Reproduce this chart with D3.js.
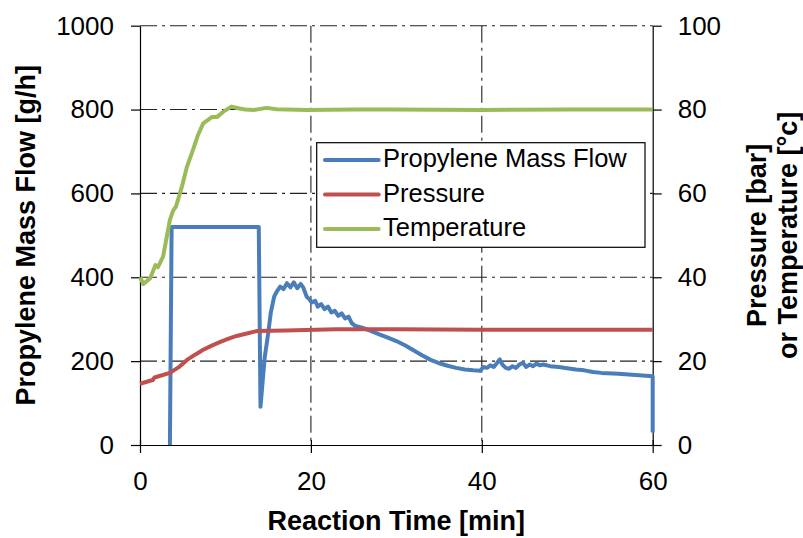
<!DOCTYPE html>
<html>
<head>
<meta charset="utf-8">
<script src="https://cdn.jsdelivr.net/npm/d3@7"></script>
<style>
  body { margin: 0; background: #fff; }
  svg { font-family: "Liberation Sans", Arial, sans-serif; }
  .grid line { stroke: #222; stroke-width: 1.1; stroke-dasharray: 17,5,3,5; }
  .axis path, .axis line { stroke: #000; stroke-width: 1.2; }
  .axis text { font-size: 26px; fill: #000; }
  .series { fill: none; stroke-width: 4; stroke-linejoin: round; }
  .title { font-size: 27px; font-weight: bold; fill: #000; }
</style>
</head>
<body>
<svg width="803" height="538"></svg>
<script>
var margin = { top: 25.7, right: 150.3, bottom: 93, left: 140 }
    , width = 803 - margin.left - margin.right
    , height = 538 - margin.top - margin.bottom;

const colors = {
    flow: "#4a7ebb",
    pressure: "#c0504d",
    temperature: "#9bbb59"
};

// x ticks / y ticks
var timeTicks = [0, 20, 40, 60];
var flowTicks = [0, 200, 400, 600, 800, 1000];
var rightTicks = [0, 20, 40, 60, 80, 100];

// Propylene mass flow [g/h] vs time [min]
var flowTime = [3.5, 3.7, 13.9, 14.1, 14.6, 15.0, 15.3, 15.7, 16.0, 16.4, 16.8, 17.2, 17.6, 18.0, 18.4, 18.8, 19.1, 19.5, 19.8, 20.1, 20.5, 20.8, 21.2, 21.6, 22.0, 22.4, 22.8, 23.2, 23.6, 24.0, 24.4, 24.8, 25.2, 26, 27, 28, 29, 30, 31, 32, 33, 34, 35, 36, 37, 38, 39, 39.8, 40.2, 40.6, 41.0, 41.4, 41.8, 42.1, 42.4, 42.8, 43.2, 43.6, 44.0, 44.4, 44.8, 45.2, 45.6, 46.0, 46.4, 46.8, 47.2, 48, 49, 50, 51, 52, 53, 54, 56, 58, 60, 60];
var flowValue = [0, 520, 520, 91, 210, 266, 315, 354, 366, 378, 372, 386, 376, 388, 374, 384, 376, 354, 348, 340, 344, 330, 336, 324, 330, 316, 320, 308, 314, 302, 306, 290, 284, 280, 272, 264, 256, 248, 238, 226, 214, 203, 195, 189, 184, 180, 178, 177, 186, 184, 190, 186, 196, 204, 192, 184, 182, 188, 184, 192, 196, 186, 192, 188, 194, 190, 192, 188, 186, 183, 180, 178, 174, 172, 170, 167, 164, 30];

// Pressure [bar]
var pressureTime = [0, 1.5, 1.7, 3.5, 4.5, 5.5, 6.5, 7.4, 8.4, 9.4, 10.3, 11.3, 12.5, 13.7, 17, 23, 30, 40, 50, 60];
var pressureValue = [14.6, 15.5, 16.1, 17.2, 18.5, 20.3, 21.6, 22.7, 23.7, 24.6, 25.3, 26.0, 26.6, 27.2, 27.3, 27.6, 27.6, 27.5, 27.5, 27.5];

// Temperature [°c]
var tempTime = [0, 0.4, 1.2, 1.8, 2.1, 2.7, 3.5, 3.9, 4.2, 4.9, 5.5, 6.2, 6.8, 7.4, 8.4, 9.0, 9.75, 10.7, 11.5, 12.3, 13.3, 14.8, 16, 19.5, 25, 30, 40, 50, 60];
var tempValue = [40, 38.4, 39.8, 42.9, 42.4, 44.9, 53.7, 56.0, 56.8, 61.6, 66.4, 70.4, 74, 76.7, 78.2, 78.2, 79.5, 80.7, 80.3, 80.0, 79.9, 80.4, 80.1, 79.9, 80, 80, 79.9, 80, 80];

var legendLabels = ["Propylene Mass Flow", "Pressure", "Temperature"];

function zip(xs, ys) {
    return xs.map(function (d, i) { return { t: d, v: ys[i] }; });
}

var x = d3.scaleLinear().domain([0, 60]).range([0, width]);
var y = d3.scaleLinear().domain([0, 1000]).range([height, 0]);
var y2 = d3.scaleLinear().domain([0, 100]).range([height, 0]);

var svg = d3.select("svg")
    .append("g")
    .attr("transform", "translate(" + margin.left + "," + margin.top + ")");

// gridlines
var grid = svg.append("g").attr("class", "grid");
grid.selectAll(".h")
    .data(flowTicks.slice(1))
    .enter().append("line")
    .attr("x1", 0).attr("x2", width)
    .attr("y1", function (d) { return y(d); })
    .attr("y2", function (d) { return y(d); });
grid.selectAll(".v")
    .data(timeTicks.slice(1, -1))
    .enter().append("line")
    .attr("y1", 0).attr("y2", height)
    .attr("x1", function (d) { return x(d); })
    .attr("x2", function (d) { return x(d); });

// axes
var fmt = d3.format("d");
var xAxis = svg.append("g")
    .attr("class", "axis")
    .attr("transform", "translate(0," + height + ")")
    .call(d3.axisBottom(x).tickValues(timeTicks).tickFormat(fmt).tickSizeInner(8).tickSizeOuter(0).tickPadding(19));
xAxis.selectAll(".tick line").attr("y1", -5);

svg.append("g")
    .attr("class", "axis")
    .call(d3.axisLeft(y).tickValues(flowTicks).tickFormat(fmt).tickSizeInner(9).tickSizeOuter(0).tickPadding(17));

svg.append("g")
    .attr("class", "axis")
    .attr("transform", "translate(" + width + ",0)")
    .call(d3.axisRight(y2).tickValues(rightTicks).tickFormat(fmt).tickSizeInner(9).tickSizeOuter(0).tickPadding(16));

// series
var line1 = d3.line().x(function (d) { return x(d.t); }).y(function (d) { return y(d.v); });
var line2 = d3.line().x(function (d) { return x(d.t); }).y(function (d) { return y2(d.v); });

svg.append("path").datum(zip(flowTime, flowValue))
    .attr("class", "series").attr("stroke", colors.flow).attr("stroke-width", 4.5).attr("d", line1);
svg.append("path").datum(zip(pressureTime, pressureValue))
    .attr("class", "series").attr("stroke", colors.pressure).attr("d", line2);
svg.append("path").datum(zip(tempTime, tempValue))
    .attr("class", "series").attr("stroke", colors.temperature).attr("d", line2);

// legend
var legend = svg.append("g")
    .attr("transform", "translate(" + (316.7 - margin.left) + "," + (142.7 - margin.top) + ")");
legend.append("rect")
    .attr("width", 328.3).attr("height", 104.6)
    .attr("fill", "#fff").attr("stroke", "#000").attr("stroke-width", 1.2);
var legendColors = [colors.flow, colors.pressure, colors.temperature];
legendLabels.forEach(function (label, i) {
    var ly = 17.3 + i * 34.5;
    legend.append("line")
        .attr("x1", 8.3).attr("x2", 62)
        .attr("y1", ly).attr("y2", ly)
        .attr("stroke", legendColors[i]).attr("stroke-width", 4).attr("stroke-linecap", "round");
    legend.append("text")
        .attr("x", 66.3).attr("y", ly + 7.5)
        .style("font-size", "25.5px")
        .text(label);
});

// axis titles
svg.append("text")
    .attr("class", "title")
    .attr("x", width / 2).attr("y", 530 - margin.top)
    .attr("text-anchor", "middle")
    .text("Reaction Time [min]");

svg.append("text")
    .attr("class", "title")
    .attr("transform", "translate(" + (35 - margin.left) + "," + (height / 2) + ") rotate(-90)")
    .attr("text-anchor", "middle")
    .text("Propylene Mass Flow [g/h]");

svg.append("text")
    .attr("class", "title")
    .attr("transform", "translate(" + (766 - margin.left) + "," + (height / 2) + ") rotate(-90)")
    .attr("text-anchor", "middle")
    .text("Pressure [bar]");

svg.append("text")
    .attr("class", "title")
    .attr("transform", "translate(" + (797 - margin.left) + "," + (height / 2) + ") rotate(-90)")
    .attr("text-anchor", "middle")
    .text("or Temperature [°c]");
</script>
</body>
</html>
